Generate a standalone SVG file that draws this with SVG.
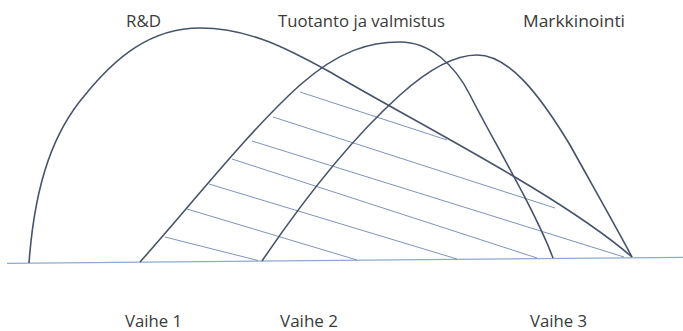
<svg xmlns="http://www.w3.org/2000/svg" width="683" height="331" viewBox="0 0 683 331">
<style>
.lbl{font-family:"Open Sans","Liberation Sans",sans-serif;font-size:16.5px;fill:#3a3a3a}
.curve{fill:none;stroke:#46536b;stroke-width:1.6}
.hatch{fill:none;stroke:#6f87b5;stroke-width:0.9}
.base{fill:none;stroke:#8eaad0;stroke-width:1.3}
</style>
<rect width="683" height="331" fill="#ffffff"/>
<g id="connectors">
<path class="base" d="M7,263.3 L683,257.3"/>
<g id="hatching">
<line class="hatch" x1="300" y1="92" x2="447" y2="140"/>
<line class="hatch" x1="273" y1="117" x2="555" y2="208"/>
<line class="hatch" x1="252" y1="141" x2="624" y2="257"/>
<line class="hatch" x1="232" y1="159" x2="537" y2="258"/>
<line class="hatch" x1="209" y1="184" x2="457" y2="259"/>
<line class="hatch" x1="187" y1="209" x2="357" y2="260"/>
<line class="hatch" x1="165" y1="237" x2="258" y2="260.5"/>
</g>
</g>
<g id="rd">
<path class="curve" d="M29,263 C35,180 55,130 85,95 C115,58 150,28 200,28 C250,28 290,50 330,72 C420,125 560,195 632,257"/>
<text class="lbl" x="126" y="27" textLength="35" lengthAdjust="spacingAndGlyphs">R&amp;D</text>
</g>
<g id="tuotanto">
<path class="curve" d="M140,262 C195,200 250,130 300,85 C340,50 370,42 400,42 C430,42 455,65 470,95 C490,135 535,210 553,258"/>
<text class="lbl" x="278" y="27" textLength="167" lengthAdjust="spacingAndGlyphs">Tuotanto ja valmistus</text>
</g>
<g id="markkinointi">
<path class="curve" d="M262,261 C300,205 350,140 400,95 C430,68 455,55 477,55 C508,55 538,92 570,145 C595,190 615,225 632,257"/>
<text class="lbl" x="523" y="27" textLength="102" lengthAdjust="spacingAndGlyphs">Markkinointi</text>
</g>
<g id="vaihe1"><text class="lbl" x="125" y="327" textLength="57" lengthAdjust="spacingAndGlyphs">Vaihe 1</text></g>
<g id="vaihe2"><text class="lbl" x="280" y="327" textLength="58" lengthAdjust="spacingAndGlyphs">Vaihe 2</text></g>
<g id="vaihe3"><text class="lbl" x="530" y="327" textLength="57" lengthAdjust="spacingAndGlyphs">Vaihe 3</text></g>
</svg>
